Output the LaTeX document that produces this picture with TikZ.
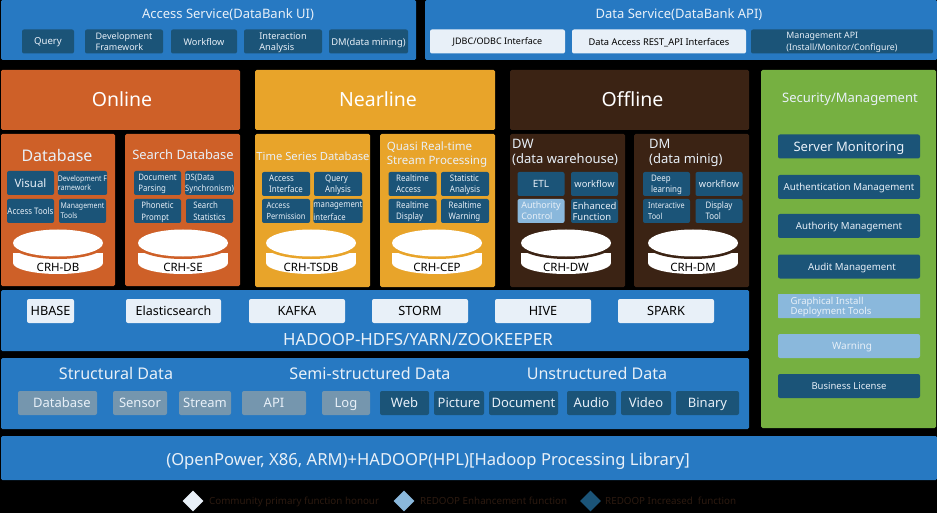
\documentclass[tikz,border=0pt]{standalone}
\usepackage{fontspec}
\setmainfont{Noto Sans}
\newfontfamily\narrowfont[FakeStretch=0.88]{Noto Sans}
\usepackage{tikz}
\usetikzlibrary{shapes,positioning}
\usepackage{xcolor}
\definecolor{rhblue}{RGB}{39,121,194}
\definecolor{rhnavy}{RGB}{27,84,120}
\definecolor{rhlight}{RGB}{138,184,220}
\definecolor{rhwhite}{RGB}{232,240,248}
\definecolor{rhgrey}{RGB}{117,150,174}
\definecolor{rhorange}{RGB}{206,96,40}
\definecolor{rhyellow}{RGB}{232,164,42}
\definecolor{rhbrown}{RGB}{59,35,20}
\definecolor{rhgreen}{RGB}{118,176,65}
\definecolor{rhlegend}{RGB}{44,26,16}
\newcommand{\fsz}[1]{\fontsize{#1}{#1}\selectfont}
\newcommand{\nfs}[1]{\narrowfont\fontsize{#1}{#1}\selectfont}
\tikzstyle{panel} = [rectangle, anchor=north west, rounded corners=1.5pt, inner sep=0pt, outer sep=0pt, align=center, text=white, text depth=0pt]
\tikzstyle{title} = [inner sep=0pt, text=rhwhite, align=left, text depth=0pt]
\tikzstyle{itembox} = [rectangle, rounded corners=2pt, minimum height=24pt, inner xsep=0pt, inner ysep=0pt, outer sep=0pt, align=left, text depth=0pt]
\tikzstyle{navybox} = [itembox, fill=rhnavy, text=rhwhite]
\tikzstyle{lightbox} = [itembox, fill=rhlight, text=rhwhite]
\tikzstyle{whitebox} = [itembox, fill=rhwhite, text=black]
\tikzstyle{greybox} = [itembox, fill=rhgrey, text=rhwhite]
\tikzstyle{legendtext} = [anchor=west, inner sep=0pt, text=rhlegend, font=\fsz{9.8}, text depth=0pt]
\tikzstyle{legendmark} = [diamond, minimum width=21pt, minimum height=21pt, inner sep=0pt]
% one disk: name, centre x, colour behind it, label
\newcommand{\crhdisk}[4]{
\fill [white] (#2-45,253) rectangle (#2+45,263);
\fill [white] (#2,263) ellipse [x radius=45, y radius=11];
\fill [#3] (#2,246) ellipse [x radius=45.5, y radius=13];
\fill [white] (#2,243) ellipse [x radius=45, y radius=13.5];
\node (#1) [inner sep=0pt, text=black, font=\fsz{11.5}, text depth=0pt] at (#2,267) {#4};
}

\begin{document}
\begin{tikzpicture}[x=1pt, y=-1pt]
\useasboundingbox (0,0) rectangle (937,513);
\fill [black] (0,0) rectangle (937,513);

% Access service
\node (access) [panel, fill=rhblue, minimum width=415pt, minimum height=60pt] at (1,0) {};
\node (accesstitle) [title, font=\fsz{13}] at (228,14) {Access Service(DataBank UI)};
\node (query) [navybox, minimum width=52pt, font=\fsz{9.6}] at (48,41.5) {Query};
\node (devframe) [navybox, minimum width=78pt, font=\fsz{9}] at (124,41.5) {Development\\[2pt]Framework};
\node (workflow) [navybox, minimum width=66pt, font=\fsz{9.2}] at (204,41.5) {Workflow};
\node (interaction) [navybox, minimum width=78pt, font=\fsz{9.2}] at (283,41.5) {Interaction\\[2pt]Analysis};
\node (mining) [navybox, minimum width=79pt, font=\fsz{9.4}] at (368.5,41.5) {DM(data mining)};

% Data service
\node (dataservice) [panel, fill=rhblue, minimum width=512pt, minimum height=60pt] at (425,0) {};
\node (datatitle) [title, font=\fsz{13}] at (679,14) {Data Service(DataBank API)};
\node (jdbc) [whitebox, minimum width=135pt, font=\fsz{9}] at (497.5,41.5) {JDBC/ODBC Interface};
\node (rest) [whitebox, minimum width=174pt, font=\fsz{9.3}] at (659,41.5) {Data Access REST\_API Interfaces};
\node (mgmtapi) [navybox, minimum width=182pt, font=\fsz{8.8}] at (842,41.5) {Management API\\[2pt](Install/Monitor/Configure)};

% Three speed layers
\node (online) [panel, fill=rhorange, minimum width=239pt, minimum height=60pt, font=\fsz{19.5}, text depth=2pt] at (1,70) {\hspace{3pt}Online};
\node (nearline) [panel, fill=rhyellow, minimum width=240pt, minimum height=60pt, font=\fsz{19.5}, text depth=2pt] at (255,70) {\hspace{6pt}Nearline};
\node (offline) [panel, fill=rhbrown, minimum width=239pt, minimum height=60pt, font=\fsz{19.5}, text depth=2pt] at (510,70) {\hspace{6pt}Offline};

% Online: database
\node (database) [panel, fill=rhorange, minimum width=114pt, minimum height=152pt] at (1,134) {};
\node (databasetitle) [title, font=\fsz{16}] at (57,155) {Database};
\node (visual) [navybox, minimum width=47pt, font=\fsz{11.5}] at (30.5,183) {Visual};
\node (devf) [navybox, minimum width=47pt, font=\nfs{7.9}] at (82.5,183) {Development F\\[2pt]ramework};
\node (acctools) [navybox, minimum width=47pt, font=\nfs{9}] at (30.5,211) {Access Tools};
\node (mgmttools) [navybox, minimum width=47pt, font=\nfs{7.9}] at (82.5,211) {Management\\[2pt]Tools};
\crhdisk{crhdb}{58}{rhorange}{CRH-DB}

% Online: search database
\node (search) [panel, fill=rhorange, minimum width=115pt, minimum height=152pt] at (125,134) {};
\node (searchtitle) [title, font=\fsz{12.9}] at (183,155) {Search Database};
\node (docparse) [navybox, minimum width=47pt, font=\nfs{8.9}] at (157.5,183) {Document\\[2.5pt]Parsing};
\node (dsync) [navybox, minimum width=47pt, font=\nfs{8.7}] at (209.5,183) {DS(Data\\[2.5pt]Synchronism)};
\node (phonetic) [navybox, minimum width=47pt, font=\nfs{8.9}] at (157.5,211) {Phonetic\\[2.5pt]Prompt};
\node (searchstat) [navybox, minimum width=47pt, font=\nfs{8.9}] at (209.5,211) {Search\\[2.5pt]Statistics};
\crhdisk{crhse}{183}{rhorange}{CRH-SE}

% Nearline: time series
\node (tsdb) [panel, fill=rhyellow, minimum width=115pt, minimum height=153pt] at (255,134) {};
\node (tsdbtitle) [title, font=\fsz{11.2}] at (313,156) {Time Series Database};
\node (accif) [navybox, minimum width=48pt, font=\nfs{9}] at (286,184) {Access\\[2pt]Interface};
\node (queryan) [navybox, minimum width=48pt, font=\nfs{9}] at (338,184) {Query\\[2pt]Anlysis};
\node (accperm) [navybox, minimum width=48pt, font=\nfs{8.5}] at (286,211) {Access\\[2.5pt]Permission};
\node (mgmtif) [navybox, minimum width=48pt, font=\nfs{8.8}] at (338,211) {management\\[2.5pt]interface};
\crhdisk{crhtsdb}{311}{rhyellow}{CRH-TSDB}

% Nearline: stream processing
\node (stream) [panel, fill=rhyellow, minimum width=115pt, minimum height=153pt] at (380,134) {};
\node (streamtitle) [title, font=\fsz{11.5}] at (437,153) {Quasi Real-time\\[2.5pt]Stream Processing};
\node (rtaccess) [navybox, minimum width=48pt, font=\nfs{9}] at (412.5,184) {Realtime\\[2pt]Access};
\node (statan) [navybox, minimum width=48pt, font=\nfs{9}] at (465,184) {Statistic\\[2pt]Analysis};
\node (rtdisplay) [navybox, minimum width=48pt, font=\nfs{9}] at (412.5,211) {Realtime\\[2pt]Display};
\node (rtwarning) [navybox, minimum width=48pt, font=\nfs{9}] at (465,211) {Realtime\\[2pt]Warning};
\crhdisk{crhcep}{437}{rhyellow}{CRH-CEP}

% Offline: warehouse
\node (dw) [panel, fill=rhbrown, minimum width=115pt, minimum height=153pt] at (510,134) {};
\node (dwtitle) [title, font=\fsz{13}, anchor=north west] at (512,139) {DW\\[2pt](data warehouse)};
\node (etl) [navybox, minimum width=47pt, font=\fsz{10}] at (541,184) {ETL};
\node (dwflow) [navybox, minimum width=47pt, font=\fsz{9.3}] at (594.5,184) {workflow};
\node (authctl) [lightbox, minimum width=47pt, font=\fsz{9}] at (541,211) {Authority\\[2pt]Control};
\node (enhfunc) [navybox, minimum width=47pt, font=\fsz{9.5}] at (594.5,211) {Enhanced\\[1.5pt]Function};
\crhdisk{crhdw}{566}{rhbrown}{CRH-DW}

% Offline: mining
\node (dm) [panel, fill=rhbrown, minimum width=115pt, minimum height=153pt] at (634,134) {};
\node (dmtitle) [title, font=\fsz{13}, anchor=north west] at (649,139) {DM\\[2pt](data minig)};
\node (deep) [navybox, minimum width=47pt, font=\nfs{9}] at (666.5,184) {Deep\\[2pt]learning};
\node (dmflow) [navybox, minimum width=47pt, font=\fsz{9.3}] at (719,184) {workflow};
\node (interact) [navybox, minimum width=47pt, font=\nfs{8.3}] at (666.5,211) {Interactive\\[2.5pt]Tool};
\node (disptool) [navybox, minimum width=47pt, font=\nfs{9}] at (719,211) {Display\\[2pt]Tool};
\crhdisk{crhdm}{693}{rhbrown}{CRH-DM}

% Security column
\node (security) [panel, fill=rhgreen, minimum width=175pt, minimum height=358pt] at (761,70) {};
\node (sectitle) [title, font=\fsz{13}] at (850,98) {Security/Management};
\node (servermon) [navybox, minimum width=142pt, font=\fsz{13}] at (849,146.5) {Server Monitoring};
\node (authn) [navybox, minimum width=142pt, font=\fsz{9.7}] at (849,187) {Authentication Management};
\node (authz) [navybox, minimum width=142pt, font=\fsz{9.7}] at (849,226) {Authority Management};
\node (audit) [navybox, minimum width=142pt, font=\fsz{9.7}] at (849,266.5) {\hspace{6pt}Audit Management};
\node (install) [lightbox, minimum width=142pt, font=\fsz{9.6}, rounded corners=0.5pt] at (849,306) {Graphical Install\\[1pt]Deployment Tools\hspace*{36pt}};
\node (warning) [lightbox, minimum width=142pt, font=\fsz{10}] at (849,346) {\hspace{6pt}Warning};
\node (license) [navybox, minimum width=142pt, font=\fsz{9.5}] at (849,386) {Business License};

% Hadoop layer
\node (hadoop) [panel, fill=rhblue, minimum width=748pt, minimum height=61pt] at (1,290) {};
\node (hbase) [whitebox, minimum width=47pt, font=\fsz{12.7}] at (50.5,311) {HBASE};
\node (elastic) [whitebox, minimum width=95pt, font=\fsz{12.5}] at (173.5,311) {Elasticsearch};
\node (kafka) [whitebox, minimum width=96pt, font=\fsz{12.7}] at (297,311) {KAFKA};
\node (storm) [whitebox, minimum width=96pt, font=\fsz{12.7}] at (420,311) {STORM};
\node (hive) [whitebox, minimum width=96pt, font=\fsz{12.7}] at (543,311) {HIVE};
\node (spark) [whitebox, minimum width=96pt, font=\fsz{12.7}] at (666,311) {SPARK};
\node (hadooptitle) [title, font=\fsz{16.8}] at (418,339) {HADOOP-HDFS/YARN/ZOOKEEPER};

% Data sources
\node (sources) [panel, fill=rhblue, minimum width=748pt, minimum height=71pt] at (1,358) {};
\node (structural) [title, font=\fsz{16.1}] at (116,373) {Structural Data};
\node (semi) [title, font=\fsz{16.1}] at (370,373) {Semi-structured Data};
\node (unstructured) [title, font=\fsz{16.1}] at (597,373) {Unstructured Data};
\node (srcdb) [greybox, minimum width=79pt, font=\fsz{13}] at (57.5,403) {\hspace{9pt}Database};
\node (sensor) [greybox, minimum width=54pt, font=\fsz{13}] at (140,403) {Sensor};
\node (srcstream) [greybox, minimum width=52pt, font=\fsz{13}] at (205,403) {Stream};
\node (api) [greybox, minimum width=64pt, font=\fsz{13}] at (274,403) {API};
\node (log) [greybox, minimum width=48pt, font=\fsz{13}] at (346,403) {Log};
\node (web) [navybox, minimum width=49pt, font=\fsz{13}] at (404.5,403) {Web};
\node (picture) [navybox, minimum width=50pt, font=\fsz{13}] at (459,403) {Picture};
\node (document) [navybox, minimum width=69pt, font=\fsz{13}] at (523.5,403) {Document};
\node (audio) [navybox, minimum width=49pt, font=\fsz{13}] at (591.5,403) {Audio};
\node (video) [navybox, minimum width=50pt, font=\fsz{13}] at (646,403) {Video};
\node (binary) [navybox, minimum width=63pt, font=\fsz{13}] at (707.5,403) {Binary};

% Hardware layer
\node (hardware) [panel, fill=rhblue, minimum width=936pt, minimum height=44pt] at (1,436) {};
\node (hardwaretitle) [title, font=\fsz{16.6}] at (428,459) {(OpenPower, X86, ARM)+HADOOP(HPL)[Hadoop Processing Library]};

% Legend
\node (markwhite) [legendmark, fill=rhwhite] at (193,501) {};
\node (textwhite) [legendtext] at (209,501) {Community primary function honour};
\node (marklight) [legendmark, fill=rhlight] at (404,501) {};
\node (textlight) [legendtext] at (420,501) {REDOOP Enhancement function};
\node (marknavy) [legendmark, fill=rhnavy] at (590.5,501) {};
\node (textnavy) [legendtext] at (605,501) {REDOOP Increased\ \ function};
\end{tikzpicture}
\end{document}
